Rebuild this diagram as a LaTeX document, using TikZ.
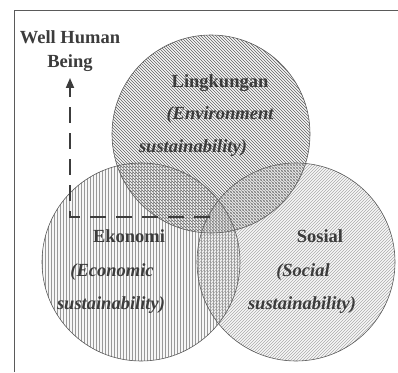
\documentclass[tikz,border=0pt]{standalone}
\usepackage{fontspec}
\setmainfont{Liberation Serif}
\usetikzlibrary{patterns,arrows.meta}
\definecolor{inkgray}{HTML}{3C3C3C}
\definecolor{rimgray}{HTML}{5A5A5A}
\tikzset{
  head/.style={font=\fontsize{18.5}{24}\selectfont\bfseries, text=inkgray, inner sep=0pt, anchor=base},
  subhead/.style={head, font=\fontsize{18.5}{24}\selectfont\bfseries\itshape},
}
\begin{document}
\begin{tikzpicture}[x=1pt,y=1pt]
\useasboundingbox (0,0) rectangle (398,372);
\draw[rimgray, line width=0.8pt] (14,0) -- (14,362) -- (398,362);
% soft grey ground under the hatching
\fill[gray!15, fill opacity=0.5] (211,238) circle (99);
\fill[gray!12, fill opacity=0.5] (141,110) circle (99);
\fill[gray!12, fill opacity=0.5] (296,110) circle (99);
\fill[pattern=north west lines, pattern color=black!62] (211,238) circle (99);
\fill[pattern=vertical lines, pattern color=black!40] (141,110) circle (99);
\fill[pattern=north east lines, pattern color=black!33] (296,110) circle (99);
\draw[rimgray, line width=0.6pt] (211,238) circle (99);
\draw[rimgray, line width=0.6pt] (141,110) circle (99);
\draw[rimgray, line width=0.6pt] (296,110) circle (99);
\node[head] (well) at (70,328) {Well Human};
\node[head] (being) at (70,304) {Being};
\coordinate (tip) at (70,294);
\coordinate (corner) at (70,155);
\coordinate (stop) at (210,155);
\draw[inkgray, line width=1.8pt, dash pattern=on 16pt off 10pt, -{Triangle[length=10pt,width=8pt]}] (stop) -- (corner) -- (tip);
\node[head] (ling) at (220,284) {Lingkungan};
\node[subhead] (lingA) at (220,252) {(Environment};
\node[subhead] (lingB) at (193,219) {sustainability)};
\node[head] (eko) at (129,129) {Ekonomi};
\node[subhead] (ekoA) at (112,96) {(Economic};
\node[subhead] (ekoB) at (111,63) {sustainability)};
\node[head] (sos) at (320,129) {Sosial};
\node[subhead] (sosA) at (303,96) {(Social};
\node[subhead] (sosB) at (302,63) {sustainability)};
\end{tikzpicture}
\end{document}
